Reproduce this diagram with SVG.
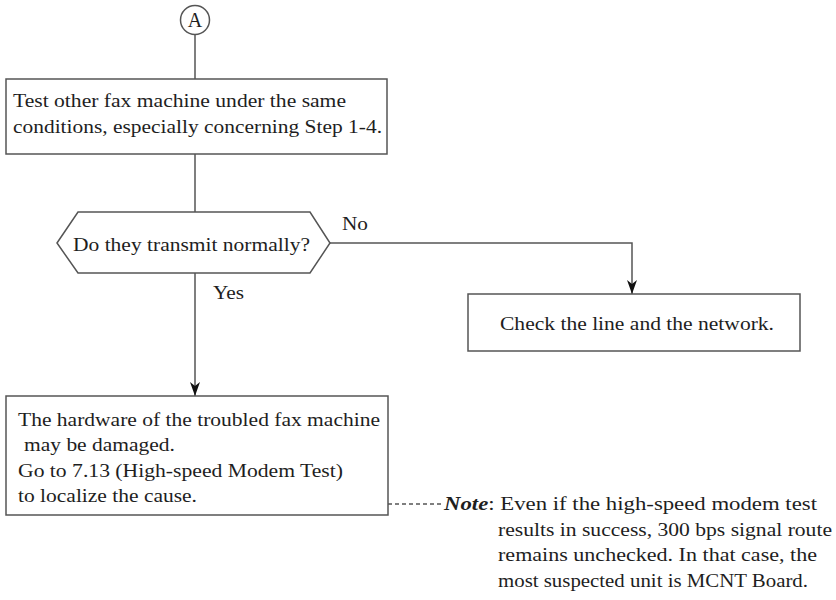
<svg xmlns="http://www.w3.org/2000/svg" width="836" height="600" viewBox="0 0 836 600" font-family="Liberation Serif, Times New Roman, serif">
<style>
.box{fill:#fff;stroke:#555;stroke-width:1.5}
.ln{fill:none;stroke:#555;stroke-width:1.5}
text{font-family:"Liberation Serif","Times New Roman",serif;font-size:19px;fill:#1e1e1e}
.bi{font-weight:bold;font-style:italic}
</style>
<defs>
<marker id="arr" viewBox="0 0 14 10" refX="14" refY="5" markerWidth="14" markerHeight="10" markerUnits="userSpaceOnUse" orient="auto">
<path d="M0,0 L14,5 L0,10 L4,5 Z" fill="#111"/>
</marker>
</defs>
<rect width="836" height="600" fill="#fff"/>
<g id="connectors">
<line class="ln" x1="195" y1="35" x2="195" y2="79"/>
<line class="ln" x1="195" y1="154" x2="195" y2="212"/>
<line class="ln" x1="195" y1="273" x2="195" y2="396" marker-end="url(#arr)"/>
<polyline class="ln" points="330,243 632,243 632,294" marker-end="url(#arr)"/>
<line class="ln" x1="388" y1="504" x2="441" y2="504" stroke-dasharray="4,3"/>
<text x="342" y="230" textLength="26" lengthAdjust="spacingAndGlyphs">No</text>
<text x="213" y="299" textLength="31" lengthAdjust="spacingAndGlyphs">Yes</text>
</g>
<g id="nodeA">
<circle cx="195" cy="20" r="14.5" fill="#fff" stroke="#555" stroke-width="1.5"/>
<text x="195" y="27" text-anchor="middle" style="font-size:20px">A</text>
</g>
<g id="node1">
<rect class="box" x="6" y="79" width="381" height="75"/>
<text x="13" y="107" textLength="333" lengthAdjust="spacingAndGlyphs">Test other fax machine under the same</text>
<text x="13" y="133" textLength="369" lengthAdjust="spacingAndGlyphs">conditions, especially concerning Step 1-4.</text>
</g>
<g id="decision">
<polygon class="box" points="57,243 78,212 310,212 330,243 310,273 78,273"/>
<text x="73" y="251" textLength="237" lengthAdjust="spacingAndGlyphs">Do they transmit normally?</text>
</g>
<g id="node2">
<rect class="box" x="468" y="294" width="332" height="57"/>
<text x="500" y="330" textLength="274" lengthAdjust="spacingAndGlyphs">Check the line and the network.</text>
</g>
<g id="node3">
<rect class="box" x="6" y="396" width="382" height="119"/>
<text x="18" y="426" textLength="362" lengthAdjust="spacingAndGlyphs">The hardware of the troubled fax machine</text>
<text x="24" y="451" textLength="151" lengthAdjust="spacingAndGlyphs">may be damaged.</text>
<text x="18" y="477" textLength="325" lengthAdjust="spacingAndGlyphs">Go to 7.13 (High-speed Modem Test)</text>
<text x="18" y="502" textLength="179" lengthAdjust="spacingAndGlyphs">to localize the cause.</text>
</g>
<g id="note">
<text x="444" y="510" textLength="373" lengthAdjust="spacingAndGlyphs"><tspan class="bi">Note</tspan>: Even if the high-speed modem test</text>
<text x="498" y="536" textLength="334" lengthAdjust="spacingAndGlyphs">results in success, 300 bps signal route</text>
<text x="498" y="561" textLength="319" lengthAdjust="spacingAndGlyphs">remains unchecked.  In that case, the</text>
<text x="498" y="587" textLength="310" lengthAdjust="spacingAndGlyphs">most suspected unit is MCNT Board.</text>
</g>
</svg>
